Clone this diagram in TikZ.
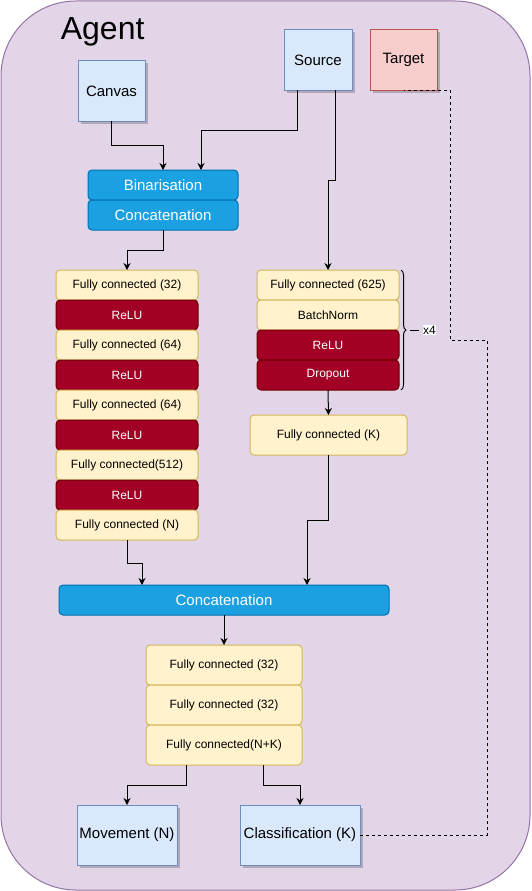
\documentclass[tikz,border=0pt]{standalone}
\usepackage{fontspec}
\setmainfont{Liberation Sans}
\usepackage{xcolor}
\usepackage{tikz}
\usetikzlibrary{positioning,arrows.meta,shadows}
\usetikzlibrary{decorations.pathreplacing}

\definecolor{agentfill}{HTML}{E1D5E7}
\definecolor{agentline}{HTML}{9673A6}
\definecolor{iofill}{HTML}{DAE8FC}
\definecolor{ioline}{HTML}{6C8EBF}
\definecolor{tgtfill}{HTML}{F8CECC}
\definecolor{tgtline}{HTML}{B85450}
\definecolor{opfill}{HTML}{1BA1E2}
\definecolor{opline}{HTML}{006EAF}
\definecolor{fcfill}{HTML}{FFF2CC}
\definecolor{fcline}{HTML}{D6B656}
\definecolor{relufill}{HTML}{A20025}
\definecolor{reluline}{HTML}{6F0000}
\definecolor{shade}{HTML}{B3A7B7}

\begin{document}
\begin{tikzpicture}[x=1pt, y=-1pt, line width=1pt,
	base/.style = {inner sep=0pt, outer sep=0pt, align=center},
	io/.style = {base, draw=ioline, fill=iofill, minimum height=60pt, font=\fontsize{15}{18}\selectfont,
		drop shadow={shadow xshift=2.5pt, shadow yshift=-2.5pt, fill=shade, opacity=1}},
	tgt/.style = {io, draw=tgtline, fill=tgtfill},
	op/.style = {base, draw=opline, fill=opfill, text=white, rounded corners=4pt, minimum height=30pt, font=\fontsize{15}{18}\selectfont},
	fc/.style = {base, draw=fcline, fill=fcfill, rounded corners=4pt, minimum width=142pt, minimum height=30pt, font=\fontsize{12}{14}\selectfont},
	relu/.style = {fc, draw=reluline, fill=relufill, text=white},
	arr/.style = {-{Stealth[length=7pt,width=7pt]}},
	dashline/.style = {dash pattern=on 3pt off 3pt}]
	
		\useasboundingbox (0,0) rectangle (531,891);
		
		\node[base, draw=agentline, fill=agentfill, rounded corners=75pt, minimum width=529pt, minimum height=889pt] (agent) at (265.5,445.5) {};
		\node[anchor=base west, font=\fontsize{32}{38}\selectfont] (agentlbl) at (57,40) {Agent};
		
		\begin{scope}
			\node[io, minimum width=67pt] (canvas) at (111.5,91) {Canvas};
			\node[io, minimum width=68pt] (source) at (318,60) {Source};
			\node[tgt, minimum width=67pt] (target) at (403.5,60) {Target};
			
			\node[op, minimum width=150pt] (binar) at (163,185) {Binarisation};
			\node[op, minimum width=150pt, below=0pt of binar] (concat) {Concatenation};
		\end{scope}
		
		\begin{scope}
			\node[fc] (fca) at (127,285) {Fully connected (32)};
			\node[relu, below=0pt of fca] (relua) {ReLU};
			\node[fc, below=0pt of relua] (fcb) {Fully connected (64)};
			\node[relu, below=0pt of fcb] (relub) {ReLU};
			\node[fc, below=0pt of relub] (fcc) {Fully connected (64)};
			\node[relu, below=0pt of fcc] (reluc) {ReLU};
			\node[fc, below=0pt of reluc] (fcd) {Fully connected(512)};
			\node[relu, below=0pt of fcd] (relud) {ReLU};
			\node[fc, below=0pt of relud] (fcn) {Fully connected (N)};
		\end{scope}
		
		\begin{scope}
			\node[fc] (fcp) at (328,285) {Fully connected (625)};
			\node[fc, below=0pt of fcp] (bn) {BatchNorm};
			\node[relu, below=0pt of bn] (relup) {ReLU};
			\node[relu, below=0pt of relup] (drop) {Dropout};
			\node[fc, minimum width=157pt, minimum height=40pt] (fck) at (328.5,435) {Fully connected (K)};
			
			\draw[decorate, decoration={brace, amplitude=5pt}] ([xshift=2pt]fcp.north east) -- ([xshift=2pt]drop.south east);
			\coordinate (bracetip) at ([xshift=11pt]bn.south east);
			\node[fill=white, inner sep=0.5pt, font=\fontsize{12}{14}\selectfont, right=12pt of bracetip] (reps) {x4};
			\draw (bracetip) -- ++(9,0);
		\end{scope}
		
		\begin{scope}
			\node[op, minimum width=330pt] (merge) at (224,600) {Concatenation};
			\node[fc, minimum width=156pt, minimum height=40pt] (hida) at (224,665) {Fully connected (32)};
			\node[fc, minimum width=156pt, minimum height=40pt, below=0pt of hida] (hidb) {Fully connected (32)};
			\node[fc, minimum width=156pt, minimum height=40pt, below=0pt of hidb] (out) {Fully connected(N+K)};
			
			\node[io, minimum width=100pt] (move) at (127,835) {Movement (N)};
			\node[io, minimum width=120pt] (cls) at (300,835) {Classification (K)};
		\end{scope}
		
		\draw[arr] (canvas.south) -- ++(0,24) -| (binar.north);
		\draw[arr] ([xshift=-21pt]source.south) -- ++(0,40) -| ([xshift=38pt]binar.north);
		\draw[arr] ([xshift=17pt]source.south) -- ++(0,90) -| (fcp.north);
		\draw[arr] (concat.south) -- ++(0,20) -| (fca.north);
		\draw[arr] (drop.south) -- (fck.north);
		\draw[arr] (fck.south) -- ++(0,65) -| ([xshift=83pt]merge.north);
		\draw[arr] (fcn.south) -- ++(0,23) -| ([xshift=-82pt]merge.north);
		\draw[arr] (merge.south) -- (hida.north);
		\draw[arr] ([xshift=-38pt]out.south) -- ++(0,20) -| (move.north);
		\draw[arr] ([xshift=39pt]out.south) -- ++(0,20) -| (cls.north);
		
		\path[shape=coordinate]
		(487,340) coordinate(loopa)
		(450,90) coordinate(loopb);
		\draw[dashline] (cls.east) -| (loopa) -| (loopb) -- (target.south);
	\end{tikzpicture}
\end{document}
